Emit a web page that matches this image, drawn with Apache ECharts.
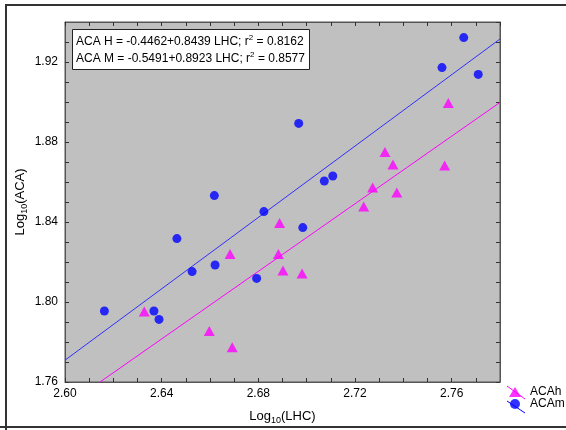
<!DOCTYPE html>
<html>
<head>
<meta charset="utf-8">
<script src="https://cdn.jsdelivr.net/npm/echarts@6/dist/echarts.min.js"></script>
<style>
html,body{margin:0;padding:0;background:#fff;}
#chart{width:566px;height:430px;}
</style>
</head>
<body>
<div id="chart"></div>
<script>
// ACAm (blue circles): [log10(LHC), log10(ACA)]
const acamPoints = [
  [2.6163, 1.7955], [2.6368, 1.7955], [2.6389, 1.7913], [2.6463, 1.8317],
  [2.6526, 1.8152], [2.6618, 1.8532], [2.6621, 1.8185], [2.6793, 1.8118],
  [2.6823, 1.8452], [2.6967, 1.8893], [2.6984, 1.8372], [2.7073, 1.8605],
  [2.7108, 1.8630], [2.7560, 1.9172], [2.7650, 1.9322], [2.7710, 1.9138]
];
// ACAh (magenta triangles)
const acahPoints = [
  [2.6328, 1.7952], [2.6597, 1.7855], [2.6692, 1.7774], [2.6683, 1.8240],
  [2.6888, 1.8395], [2.6883, 1.8240], [2.6902, 1.8157], [2.6981, 1.8143],
  [2.7236, 1.8477], [2.7273, 1.8573], [2.7324, 1.8750], [2.7357, 1.8688],
  [2.7373, 1.8547], [2.7571, 1.8682], [2.7586, 1.8995]
];
// fitted lines, end points
const fitH = [[2.6145, 1.7600], [2.7800, 1.8998]];
const fitM = [[2.6000, 1.7709], [2.7800, 1.9315]];
const eqLines = [
  'ACA H = -0.4462+0.8439 LHC; r{sup|2} = 0.8162',
  'ACA M = -0.5491+0.8923 LHC; r{sup|2} = 0.8577'
];
const xRange = [2.60, 2.78];
const yRange = [1.76, 1.94];

const FONT = '"Liberation Sans", Arial, sans-serif';
const chart = echarts.init(document.getElementById('chart'), null, {renderer: 'canvas'});

function labelFmt(v) {
  const n = Math.round(v * 100);
  return (n % 4 === 0) ? v.toFixed(2) : '';
}

const tickStyle = {show: true, inside: true, length: 4, lineStyle: {color: '#333', width: 1}};
const axisLineStyle = {show: true, lineStyle: {color: '#555', width: 1}};

chart.setOption({
  animation: false,
  backgroundColor: '#fff',
  grid: {left: 65, top: 22, right: 66, bottom: 48, show: true, backgroundColor: '#C0C0C0', borderColor: '#555', borderWidth: 1},
  title: {
    text: eqLines.join('\n'),
    left: 72, top: 29,
    padding: [4, 5, 3, 4],
    backgroundColor: '#fff',
    borderColor: '#222',
    borderWidth: 1,
    textStyle: {
      fontFamily: FONT, fontSize: 12, fontWeight: 'normal', color: '#000', lineHeight: 17,
      rich: {sup: {fontSize: 8, fontFamily: FONT, color: '#000', padding: [0, 0, 7, 0], lineHeight: 17}}
    }
  },
  legend: {
    left: 509, top: 386,
    orient: 'vertical',
    padding: 0,
    itemWidth: 12, itemHeight: 10, itemGap: 0,
    textStyle: {fontFamily: FONT, fontSize: 12, color: '#000', padding: [0, 0, 0, 4]},
    data: [{name: 'ACAh', icon: 'triangle'}, {name: 'ACAm', icon: 'circle'}]
  },
  xAxis: [{
    type: 'value', min: xRange[0], max: xRange[1], interval: 0.01,
    name: 'Log{sub|10}(LHC)', nameLocation: 'middle', nameGap: 26,
    nameTextStyle: {fontFamily: FONT, fontSize: 13, color: '#000',
      rich: {sub: {fontSize: 9, fontFamily: FONT, color: '#000', padding: [8, 0, 0, 0]}}},
    axisLine: axisLineStyle, axisTick: tickStyle,
    axisLabel: {formatter: labelFmt, fontFamily: FONT, fontSize: 12, color: '#000', margin: 6, showMaxLabel: false},
    splitLine: {show: false}
  }, {
    type: 'value', position: 'top', min: xRange[0], max: xRange[1], interval: 0.01,
    axisLine: axisLineStyle, axisTick: tickStyle, axisLabel: {show: false}, splitLine: {show: false}
  }],
  yAxis: [{
    type: 'value', min: yRange[0], max: yRange[1], interval: 0.01,
    name: 'Log{sub|10}(ACA)', nameLocation: 'middle', nameGap: 36, nameMoveOverlap: false,
    nameTextStyle: {fontFamily: FONT, fontSize: 13, color: '#000',
      rich: {sub: {fontSize: 9, fontFamily: FONT, color: '#000', padding: [8, 0, 0, 0]}}},
    axisLine: axisLineStyle, axisTick: tickStyle,
    axisLabel: {formatter: labelFmt, fontFamily: FONT, fontSize: 12, color: '#000', margin: 7, showMaxLabel: false},
    splitLine: {show: false}
  }, {
    type: 'value', position: 'right', min: yRange[0], max: yRange[1], interval: 0.01,
    axisLine: axisLineStyle, axisTick: tickStyle, axisLabel: {show: false}, splitLine: {show: false}
  }],
  graphic: [{
    type: 'polyline', silent: true,
    shape: {points: [[6, 431], [6, 5], [570, 5]]},
    style: {stroke: '#333', lineWidth: 2, fill: null}
  }, {
    type: 'line', silent: true, shape: {x1: 0, y1: 427, x2: 566, y2: 427},
    style: {stroke: '#333', lineWidth: 2}
  }, {
    type: 'line', silent: true, shape: {x1: 507, y1: 386, x2: 525, y2: 399},
    style: {stroke: '#FF00FF', lineWidth: 1}
  }, {
    type: 'line', silent: true, shape: {x1: 507, y1: 401, x2: 525, y2: 413},
    style: {stroke: '#0000FF', lineWidth: 1}
  }],
  series: [{
    name: 'fitH', type: 'line', data: fitH, showSymbol: false, symbol: 'none', clip: true,
    lineStyle: {color: '#FF00FF', width: 1}, silent: true, z: 2
  }, {
    name: 'fitM', type: 'line', data: fitM, showSymbol: false, symbol: 'none', clip: true,
    lineStyle: {color: '#3030FF', width: 1}, silent: true, z: 2
  }, {
    name: 'ACAh', type: 'scatter', data: acahPoints, symbol: 'triangle', symbolSize: [11, 10],
    itemStyle: {color: '#FF00FF'}, z: 3
  }, {
    name: 'ACAm', type: 'scatter', data: acamPoints, symbol: 'circle', symbolSize: 9,
    itemStyle: {color: '#0000FF'}, z: 3
  }]
});
</script>
</body>
</html>
